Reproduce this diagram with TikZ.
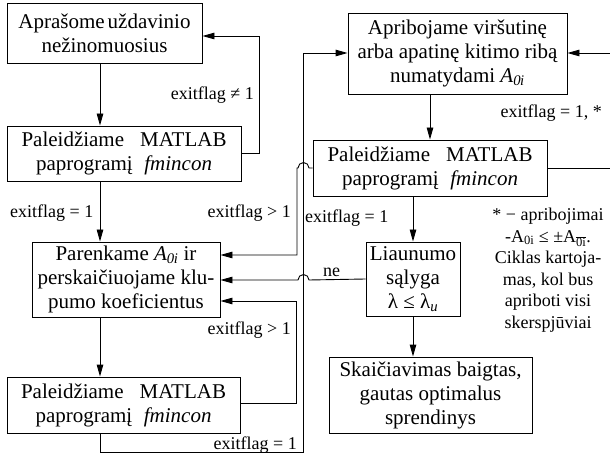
\documentclass[tikz,border=0pt]{standalone}
\usepackage{fontspec}
\setmainfont{Liberation Serif}
\usetikzlibrary{arrows.meta}
\tikzset{
  box/.style={draw, line width=0.9pt, inner sep=0pt, align=center,
    font=\fontsize{21}{24}\selectfont},
  lbl/.style={inner sep=0pt, font=\fontsize{18}{21.5}\selectfont},
  arr/.style={line width=0.9pt, -{Triangle[length=12pt,width=6.5pt]}},
}
\newcommand{\Aoi}{\textit{A}\textsubscript{\itshape 0\kern-0.5pt i}}
\begin{document}
\begin{tikzpicture}[x=1pt,y=-1pt]
\useasboundingbox (0,0) rectangle (610,454);
\begin{scope}
\clip (0,0) rectangle (610,454);
% boxes
\node[box, minimum width=195pt, minimum height=60pt] (b1) at (104.5,33)
  {Aprašome\kern3pt uždavinio\\ nežinomuosius};
\node[box, minimum width=234pt, minimum height=55pt] (b2) at (124,153.5)
  {\makebox[205pt][s]{Paleidžiame MATLAB}\\ \makebox[176pt][s]{paprogramį \textit{fmincon}}};
\node[box, minimum width=188pt, minimum height=75pt] (b3) at (126,279.5)
  {Parenkame \Aoi{} ir\\ perskaičiuojame klu-\\ pumo koeficientus};
\node[box, minimum width=233pt, minimum height=56pt] (b4) at (123.5,405)
  {\makebox[205pt][s]{Paleidžiame MATLAB}\\ \makebox[176pt][s]{paprogramį \textit{fmincon}}};
\node[box, minimum width=219pt, minimum height=81pt] (r1) at (457.5,53.5)
  {Apribojame viršutinę\\ arba apatinę kitimo ribą\\ numatydami \Aoi};
\node[box, minimum width=234pt, minimum height=56pt] (r2) at (430,168)
  {\makebox[205pt][s]{Paleidžiame MATLAB}\\ \makebox[176pt][s]{paprogramį \textit{fmincon}}};
\node[box, minimum width=94pt, minimum height=74pt] (r3) at (413,279)
  {Liaunumo\\ sąlyga\\ λ ≤ λ\textsubscript{\itshape u}};
\node[box, minimum width=203pt, minimum height=76pt] (r4) at (430.5,395)
  {Skaičiavimas baigtas,\\ gautas optimalus\\ sprendinys};
% left column
\draw[arr] (b1.south-|100,0) -- (b2.north-|100,0);
\draw[arr] (b2.east|-0,153) -- (259,153) -- (259,36) -- (b1.east|-0,36);
\draw[arr] (b2.south-|100,0) -- (b3.north-|100,0);
\draw[arr] (b3.south-|100,0) -- (b4.north-|100,0);
\draw[arr] (b4.east|-0,403) -- (296,403) -- (296,301) -- (b3.east|-0,301);
\draw[arr] (b4.south-|100,0) -- (100,452) -- (303,452) -- (303,53) -- (r1.west|-0,53);
% right column
\draw[arr] (r1.south-|430,0) -- (r2.north-|430,0);
\draw[arr] (r2.south-|413,0) -- (r3.north);
\draw[arr] (r3.south) -- (r4.north-|413,0);
\draw[arr] (r2.east) -- (616,168) -- (616,53) -- (r1.east|-0,53);
\draw[arr] (r2.west) -- (309,168) arc[start angle=0, end angle=-180, radius=5.5] -- (297,168) -- (297,255) -- (b3.east|-0,255);
\draw[arr] (r3.west) -- (309,280) arc[start angle=0, end angle=-180, radius=5.5] -- (b3.east|-0,280);
\end{scope}
% labels
\node[lbl, anchor=east] (l1) at (254,95) {exitflag ≠ 1};
\node[lbl, anchor=west] (l2) at (10,213) {exitflag = 1};
\node[lbl, anchor=east] (l3) at (291,213) {exitflag > 1};
\node[lbl, anchor=east] (l4) at (291,330) {exitflag > 1};
\node[lbl, anchor=east] (l5) at (297,445) {exitflag = 1};
\node[lbl, anchor=east] (l6) at (602,113) {exitflag = 1, *};
\node[lbl, anchor=west] (l7) at (305,218) {exitflag = 1};
\node[lbl, anchor=west] (l8) at (323,272) {ne};
\node[lbl, align=center, anchor=north] (fn) at (548,208)
  {* − apribojimai\\ -A\textsubscript{0i} ≤ ±A\textsubscript{$\overline{\mbox{0i}}$}.\\ Ciklas kartoja-\\ mas, kol bus\\ apriboti visi\\ skerspjūviai};
\end{tikzpicture}
\end{document}
